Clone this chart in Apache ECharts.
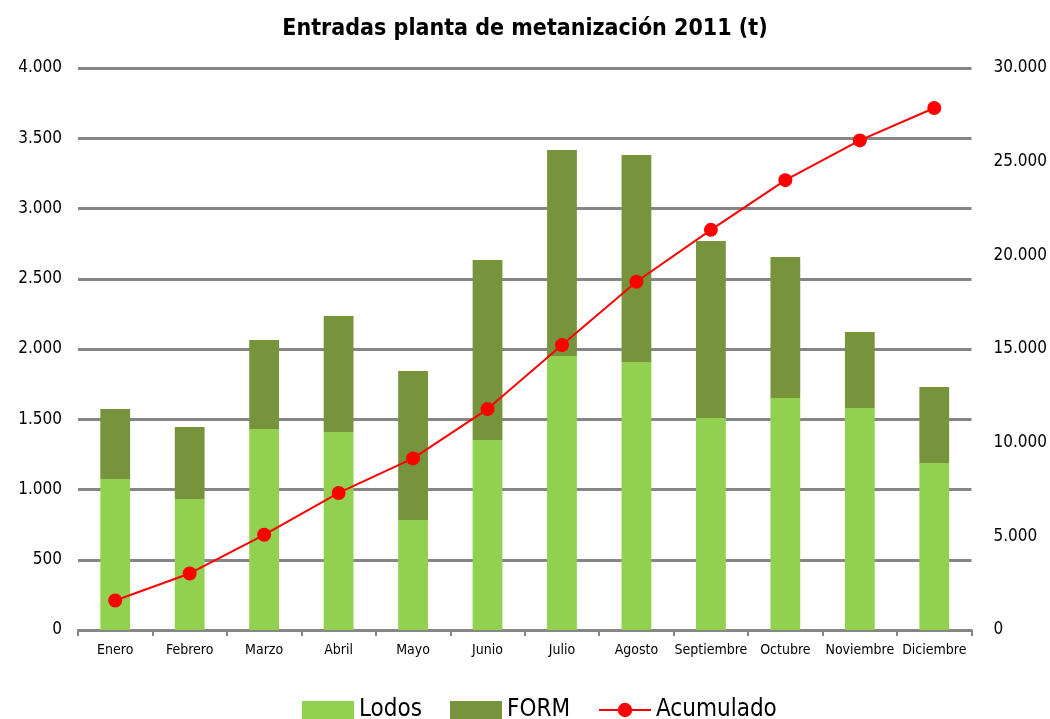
<!DOCTYPE html>
<html>
<head>
<meta charset="utf-8">
<script src="https://cdn.jsdelivr.net/npm/echarts@6/dist/echarts.min.js"></script>
<style>
html, body { margin: 0; padding: 0; background: #fff; }
#chart { width: 1050px; height: 719px; }
</style>
</head>
<body>
<div id="chart"></div>
<script>
var meses = ['Enero', 'Febrero', 'Marzo', 'Abril', 'Mayo', 'Junio', 'Julio', 'Agosto', 'Septiembre', 'Octubre', 'Noviembre', 'Diciembre'];
var lodos = [1075, 932, 1431, 1409, 783, 1352, 1950, 1907, 1509, 1651, 1580, 1189];
var form = [498, 513, 633, 826, 1060, 1281, 1466, 1474, 1260, 1004, 541, 541];
var acumulado = [1573, 3018, 5082, 7317, 9160, 11793, 15209, 18590, 21359, 24014, 26135, 27865];

var fuente = '"Liberation Sans Narrow", "Arial Narrow", "DejaVu Sans Condensed", sans-serif';

function miles(v) {
    return String(v).replace(/\B(?=(\d{3})+(?!\d))/g, '.');
}

var chart = echarts.init(document.getElementById('chart'));
var option = {
    animation: false,
    textStyle: { fontFamily: fuente },
    title: {
        text: 'Entradas planta de metanización 2011 (t)',
        left: 'center',
        top: 13,
        textStyle: { fontFamily: fuente, fontSize: 23, fontWeight: 'bold', color: '#000' }
    },
    legend: {
        bottom: -8,
        left: 297,
        itemGap: 28,
        itemWidth: 52,
        itemHeight: 18,
        textStyle: { fontFamily: fuente, fontSize: 24, color: '#000' },
        data: [
            { name: 'Lodos', icon: 'rect' },
            { name: 'FORM', icon: 'rect' },
            { name: 'Acumulado' }
        ]
    },
    grid: { left: 78, right: 73, top: 68, bottom: 89, containLabel: false },
    xAxis: {
        type: 'category',
        data: meses,
        axisLine: { lineStyle: { color: '#868686', width: 2 } },
        axisTick: { show: true, alignWithLabel: false, length: 6, lineStyle: { color: '#868686', width: 2 } },
        axisLabel: { fontFamily: fuente, fontSize: 14, color: '#000', margin: 13, interval: 0 }
    },
    yAxis: [
        {
            type: 'value',
            min: 0, max: 4000, interval: 500,
            axisLine: { show: false },
            axisTick: { show: false },
            splitLine: { lineStyle: { color: '#868686', width: 3 } },
            axisLabel: { fontFamily: fuente, fontSize: 17, color: '#000', margin: 16, formatter: miles }
        },
        {
            type: 'value',
            min: 0, max: 30000, interval: 5000,
            axisLine: { show: false },
            axisTick: { show: false },
            splitLine: { show: false },
            axisLabel: { fontFamily: fuente, fontSize: 17, color: '#000', margin: 22, formatter: miles }
        }
    ],
    series: [
        {
            name: 'Lodos',
            type: 'bar',
            stack: 'total',
            barWidth: '40%',
            itemStyle: { color: '#92D050' },
            data: lodos
        },
        {
            name: 'FORM',
            type: 'bar',
            stack: 'total',
            barWidth: '40%',
            itemStyle: { color: '#77933C' },
            data: form
        },
        {
            name: 'Acumulado',
            type: 'line',
            yAxisIndex: 1,
            symbol: 'circle',
            symbolSize: 14,
            itemStyle: { color: '#FF0000' },
            lineStyle: { color: '#FF0000', width: 2 },
            data: acumulado
        }
    ]
};
chart.setOption(option);
</script>
</body>
</html>
